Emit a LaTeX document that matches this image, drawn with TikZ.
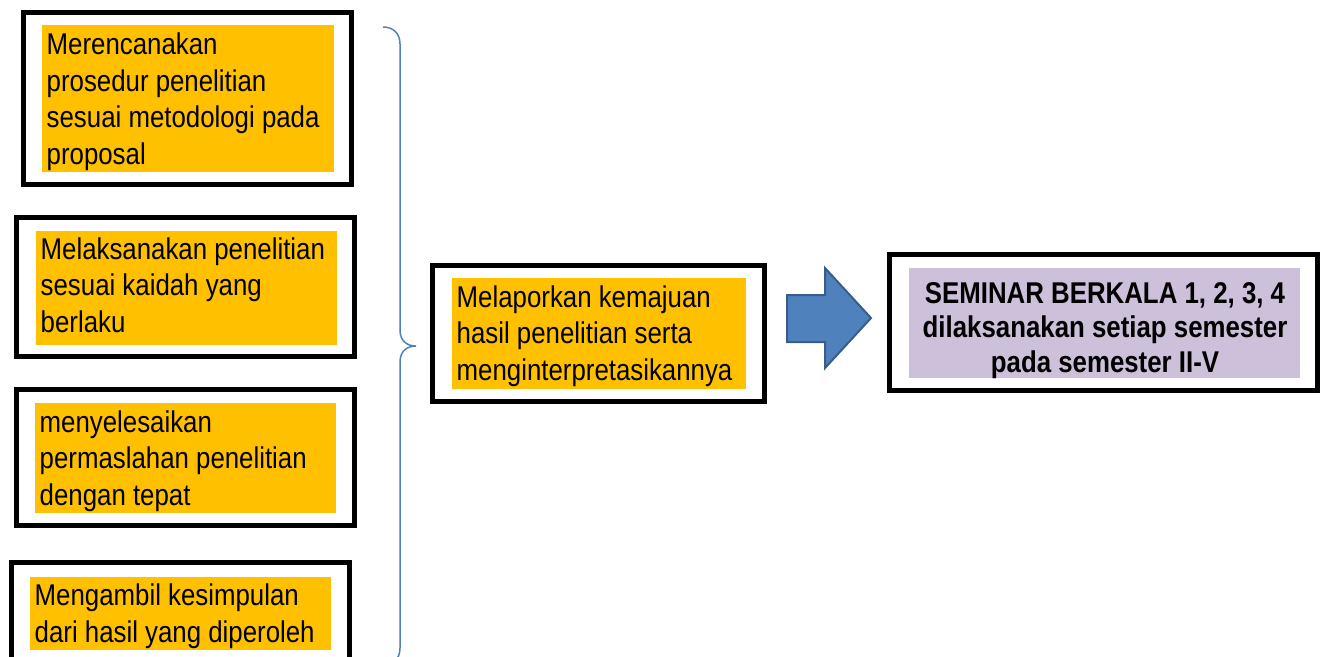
\documentclass[tikz,border=0pt]{standalone}
\usepackage{fontspec}
\setmainfont{Liberation Sans}[FakeStretch=0.86]
\definecolor{ygold}{HTML}{FFC000}
\definecolor{lav}{HTML}{CCC0DA}
\definecolor{arrfill}{HTML}{4F81BD}
\definecolor{arrline}{HTML}{385D8A}
\definecolor{bracec}{HTML}{4F81BD}
\begin{document}
\begin{tikzpicture}[x=0.01cm,y=-0.01cm,
  outerbox/.style={rectangle, draw=black, line width=0.05cm, fill=white, inner sep=0pt},
  fillbox/.style={rectangle, fill=ygold, draw=none, inner sep=0pt},
  lavbox/.style={rectangle, fill=lav, draw=none, inner sep=0pt},
  txt/.style={inner sep=0pt, align=left, anchor=base west, font=\fontsize{8.54pt}{10.35pt}\selectfont},
  boldtxt/.style={inner sep=0pt, align=center, anchor=base, font=\fontsize{8.54pt}{9.8pt}\selectfont\bfseries},
  blockarrow/.style={fill=arrfill, draw=arrline, line width=0.02cm, line join=miter},
  bracestyle/.style={draw=bracec, line width=0.015cm}
]
\useasboundingbox (0,0) rectangle (1322,656);
\clip (0,0) rectangle (1322,656);

% left column (text nodes anchored at the baseline of their last line)
\node[outerbox, minimum width=3.28cm, minimum height=1.72cm] (b1) at (187.5,98.5) {};
\node[fillbox, minimum width=2.92cm, minimum height=1.47cm] (y1) at (188,98.5) {};
\node[txt] (t1) at (46,164) {Merencanakan\\prosedur penelitian\\sesuai metodologi pada\\proposal};

\node[outerbox, minimum width=3.38cm, minimum height=1.39cm] (b2) at (185.5,287) {};
\node[fillbox, minimum width=3.01cm, minimum height=1.14cm] (y2) at (186.5,288) {};
\node[txt] (t2) at (40,332) {Melaksanakan penelitian\\sesuai kaidah yang\\berlaku};

\node[outerbox, minimum width=3.38cm, minimum height=1.36cm] (b3) at (185.5,457.5) {};
\node[fillbox, minimum width=3.01cm, minimum height=1.10cm] (y3) at (185.5,458) {};
\node[txt] (t3) at (39,505) {menyelesaikan\\permaslahan penelitian\\dengan tepat};

\node[outerbox, minimum width=3.38cm, minimum height=1.375cm] (b4) at (180.5,631) {};
\node[fillbox, minimum width=3.01cm, minimum height=0.73cm] (y4) at (180.5,613.5) {};
\node[txt] (t4) at (34,642) {Mengambil kesimpulan\\dari hasil yang diperoleh};

% brace
\coordinate (brtop) at (383,27);
\coordinate (brtip) at (416,346);
\coordinate (brbot) at (383,665);
\draw[bracestyle] (brtop) .. controls (393,27) and (400,33) .. (400,44)
  -- (400,330) .. controls (400,340) and (406,346) .. (brtip)
  .. controls (406,346) and (400,352) .. (400,362)
  -- (400,648) .. controls (400,659) and (393,665) .. (brbot);

% middle box
\node[outerbox, minimum width=3.32cm, minimum height=1.36cm] (b5) at (598.5,333.5) {};
\node[fillbox, minimum width=2.94cm, minimum height=1.11cm] (y5) at (599,333.5) {};
\node[txt] (t5) at (456,380) {Melaporkan kemajuan\\hasil penelitian serta\\menginterpretasikannya};

% block arrow
\coordinate (ar) at (787,318);
\draw[blockarrow] (ar) ++(0,-23) -- ++(38,0) -- ++(0,-27) -- ++(46,50)
  -- ++(-46,50) -- ++(0,-26) -- ++(-38,0) -- cycle;

% right box
\node[outerbox, minimum width=4.28cm, minimum height=1.36cm] (b6) at (1103.5,322.5) {};
\node[lavbox, minimum width=3.91cm, minimum height=1.10cm] (y6) at (1104.5,323) {};
\node[boldtxt] (t6) at (1105,372) {SEMINAR BERKALA 1, 2, 3, 4\\dilaksanakan setiap semester\\pada semester II-V};
\end{tikzpicture}
\end{document}
